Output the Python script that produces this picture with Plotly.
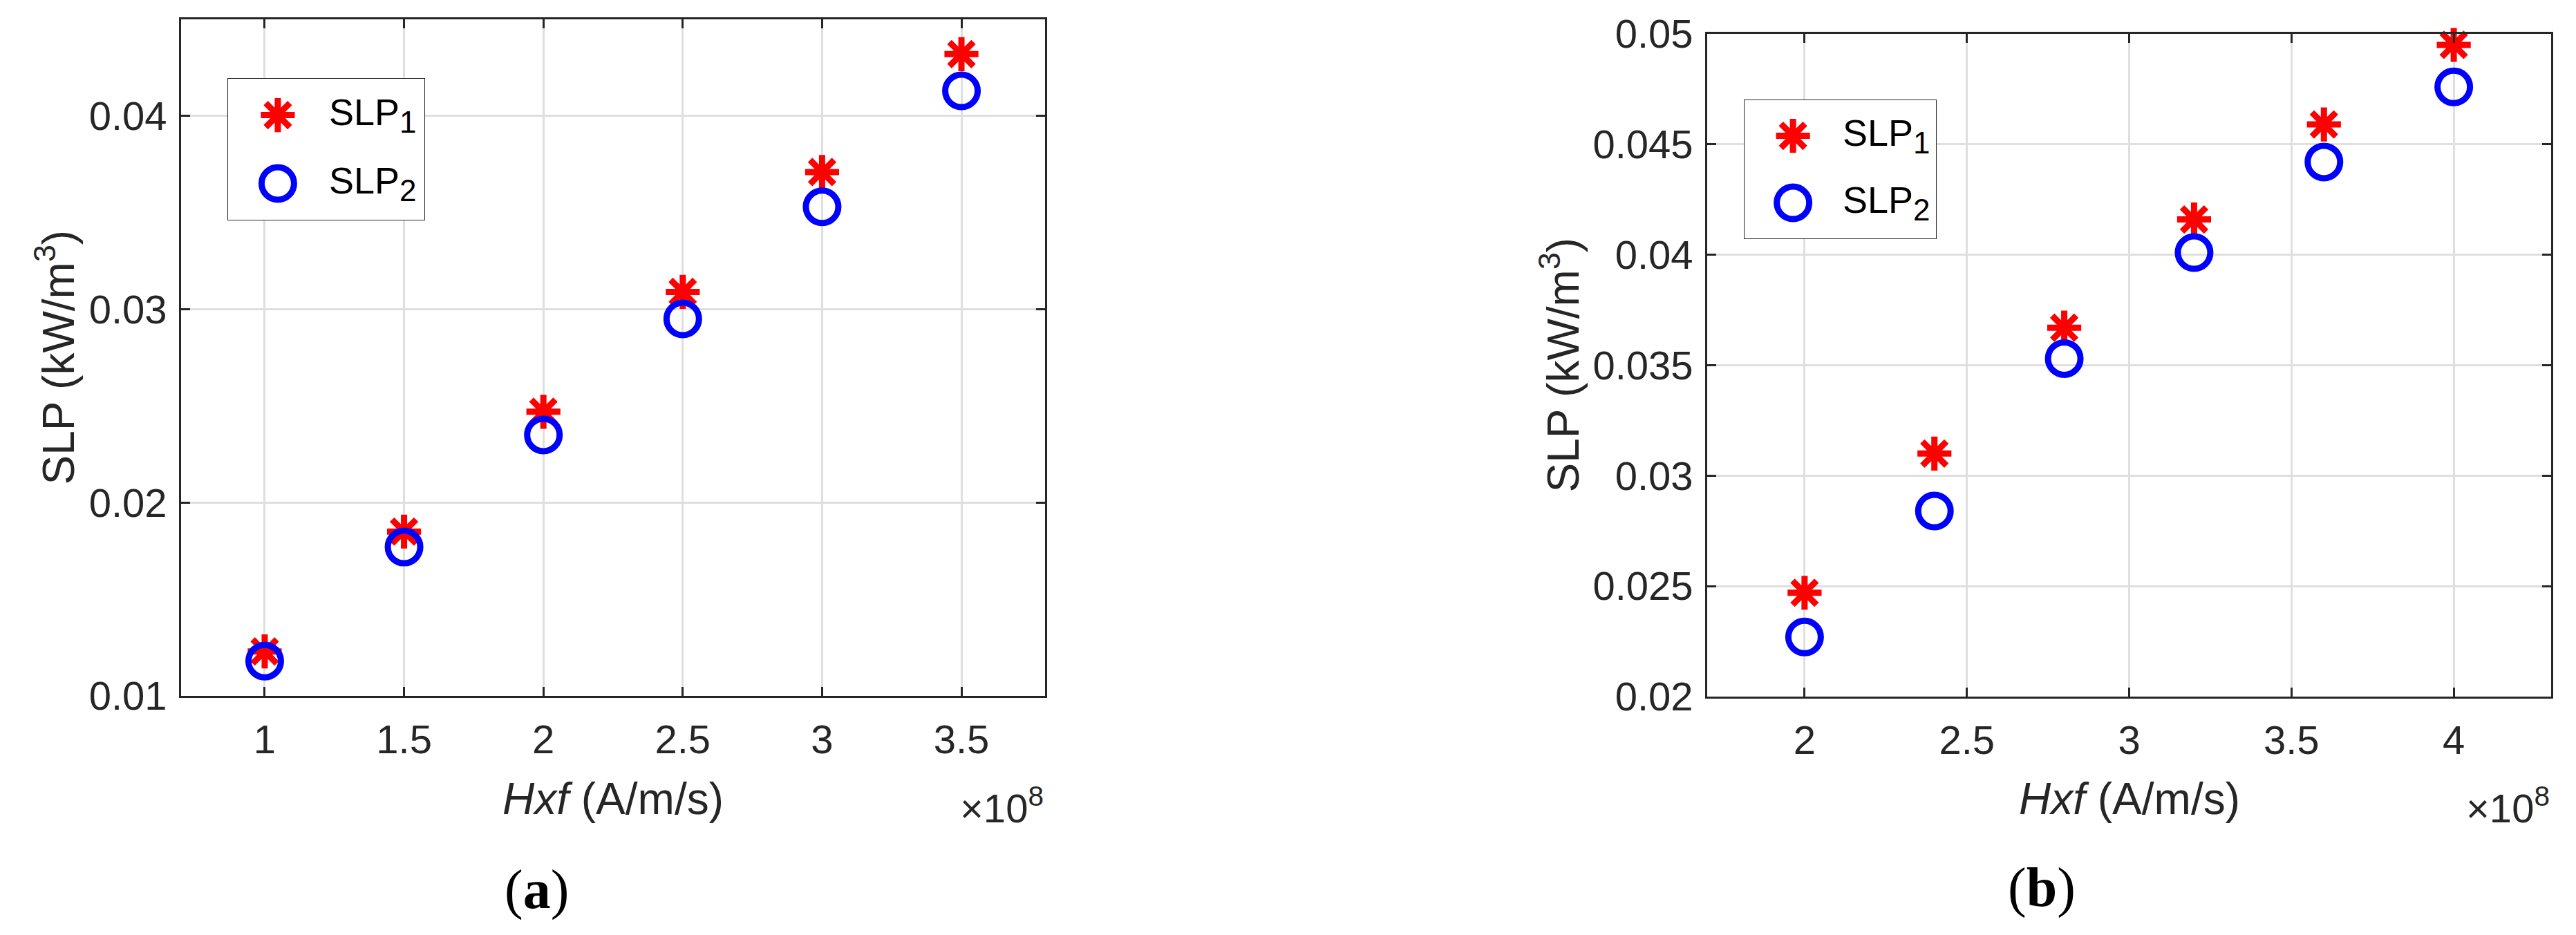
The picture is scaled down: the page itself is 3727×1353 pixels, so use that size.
import plotly.graph_objects as go

# ---------------- data (x values are in units of 1e8 A/m/s) ----------------
HXF_A = [1.0, 1.5, 2.0, 2.5, 3.0, 3.5]
SLP1_A = [0.0123, 0.0185, 0.0247, 0.0309, 0.0371, 0.0432]
SLP2_A = [0.0118, 0.0177, 0.0235, 0.0295, 0.0353, 0.0413]

HXF_B = [2.0, 2.4, 2.8, 3.2, 3.6, 4.0]
SLP1_B = [0.0247, 0.0310, 0.0367, 0.0416, 0.0459, 0.0495]
SLP2_B = [0.0227, 0.0284, 0.0353, 0.0401, 0.0442, 0.0476]

XTICKS_A = [1, 1.5, 2, 2.5, 3, 3.5]
XTICKTEXT_A = ["1", "1.5", "2", "2.5", "3", "3.5"]
YTICKS_A = [0.01, 0.02, 0.03, 0.04]
YTICKTEXT_A = ["0.01", "0.02", "0.03", "0.04"]

XTICKS_B = [2, 2.5, 3, 3.5, 4]
XTICKTEXT_B = ["2", "2.5", "3", "3.5", "4"]
YTICKS_B = [0.02, 0.025, 0.03, 0.035, 0.04, 0.045, 0.05]
YTICKTEXT_B = ["0.02", "0.025", "0.03", "0.035", "0.04", "0.045", "0.05"]

SERIES_BASE = ["SLP", "SLP"]
SERIES_SUB = ["1", "2"]
PANEL_LETTERS = ["a", "b"]
X_TITLE = "<i>Hxf</i> (A/m/s)"
Y_TITLE = "SLP (kW/m<sup>3</sup>)"
EXP_LABEL = "×10<sup>8</sup>"

# ---------------- styling ----------------
W, H = 3727, 1353
FONT = "Liberation Sans, Arial, Helvetica, sans-serif"
SERIF = "Liberation Serif, Times New Roman, serif"
AX_COLOR = "#262626"
GRID = "#DFDFDF"
RED = "#FF0000"
BLUE = "#0000FF"
TICK_SIZE = 58
LABEL_SIZE = 64
LEG_SIZE = 54

STAR = dict(symbol="asterisk-open", size=41, color=RED, line=dict(color=RED, width=9))
CIRC = dict(symbol="circle-open", size=47, color=BLUE, line=dict(color=BLUE, width=9))


def fx(px):
    return px / W


def fy(py):
    return 1 - py / H


axis_common = dict(
    showline=True, linecolor=AX_COLOR, linewidth=2.7, mirror="ticks",
    ticks="inside", ticklen=13, tickwidth=2.7, tickcolor=AX_COLOR,
    showgrid=True, gridcolor=GRID, gridwidth=2.5, zeroline=False,
    tickfont=dict(family=FONT, size=TICK_SIZE, color=AX_COLOR),
    tickmode="array", automargin=False, fixedrange=True,
)

fig = go.Figure()

# panel (a)
fig.add_trace(go.Scatter(x=HXF_A, y=SLP1_A, mode="markers", marker=STAR, name="SLP1",
                         xaxis="x", yaxis="y", showlegend=False, cliponaxis=False))
fig.add_trace(go.Scatter(x=HXF_A, y=SLP2_A, mode="markers", marker=CIRC, name="SLP2",
                         xaxis="x", yaxis="y", showlegend=False, cliponaxis=False))
# panel (b)
fig.add_trace(go.Scatter(x=HXF_B, y=SLP1_B, mode="markers", marker=STAR, name="SLP1",
                         xaxis="x2", yaxis="y2", showlegend=False, cliponaxis=False))
fig.add_trace(go.Scatter(x=HXF_B, y=SLP2_B, mode="markers", marker=CIRC, name="SLP2",
                         xaxis="x2", yaxis="y2", showlegend=False, cliponaxis=False))

# legend symbols (drawn on hidden legend axes)
for xa, ya in (("x3", "y3"), ("x4", "y4")):
    fig.add_trace(go.Scatter(x=[0.255], y=[0.74], mode="markers", marker=STAR,
                             xaxis=xa, yaxis=ya, showlegend=False, hoverinfo="skip", cliponaxis=False))
    fig.add_trace(go.Scatter(x=[0.255], y=[0.26], mode="markers", marker=CIRC,
                             xaxis=xa, yaxis=ya, showlegend=False, hoverinfo="skip", cliponaxis=False))

hidden = dict(visible=False, range=[0, 1], fixedrange=True, showgrid=False, zeroline=False)

fig.update_layout(
    width=W, height=H, autosize=False, template="none",
    paper_bgcolor="white", plot_bgcolor="white",
    margin=dict(l=0, r=0, t=0, b=0, pad=0),
    showlegend=False,
    xaxis=dict(axis_common, domain=[fx(262), fx(1512)], range=[0.7, 3.8], anchor="y",
               tickvals=XTICKS_A, ticktext=XTICKTEXT_A, ticklabelstandoff=11),
    yaxis=dict(axis_common, domain=[fy(1007), fy(28)], range=[0.01, 0.045], anchor="x",
               tickvals=YTICKS_A, ticktext=YTICKTEXT_A, ticklabelstandoff=6),
    xaxis2=dict(axis_common, domain=[fx(2470), fx(3691)], range=[1.7, 4.3], anchor="y2",
                tickvals=XTICKS_B, ticktext=XTICKTEXT_B, ticklabelstandoff=11),
    yaxis2=dict(axis_common, domain=[fy(1008), fy(49)], range=[0.02, 0.05], anchor="x2",
                tickvals=YTICKS_B, ticktext=YTICKTEXT_B, ticklabelstandoff=6),
    xaxis3=dict(hidden, domain=[fx(329), fx(615)], anchor="y3"),
    yaxis3=dict(hidden, domain=[fy(319), fy(113)], anchor="x3"),
    xaxis4=dict(hidden, domain=[fx(2523), fx(2802)], anchor="y4"),
    yaxis4=dict(hidden, domain=[fy(346), fy(144)], anchor="x4"),
)

# legend boxes (opaque, above the gridlines, beneath the legend symbols)
for xa, ya in (("x3", "y3"), ("x4", "y4")):
    fig.add_shape(type="rect", xref=xa, yref=ya, x0=0, x1=1, y0=0, y1=1,
                  line=dict(color=AX_COLOR, width=2), fillcolor="white", layer="between")

annotations = []
# legend texts
for xa, ya in (("x3", "y3"), ("x4", "y4")):
    for base, sub, yy in zip(SERIES_BASE, SERIES_SUB, (0.74, 0.26)):
        txt = f"{base}<sub><span style='font-size:44px'>{sub}</span></sub>"
        annotations.append(dict(xref=xa, yref=ya, x=0.507, y=yy, text=txt, showarrow=False,
                                xanchor="left", yanchor="middle",
                                font=dict(family=FONT, size=LEG_SIZE, color="black")))

# axis titles
for xc, yc in ((887, 1156), (3080.5, 1156)):
    annotations.append(dict(xref="paper", yref="paper", x=fx(xc), y=fy(yc), text=X_TITLE,
                            showarrow=False, xanchor="center", yanchor="middle",
                            font=dict(family=FONT, size=LABEL_SIZE, color=AX_COLOR)))
for xc, yc in ((80, 517.5), (2257, 528.5)):
    annotations.append(dict(xref="paper", yref="paper", x=fx(xc), y=fy(yc), text=Y_TITLE,
                            showarrow=False, xanchor="center", yanchor="middle", textangle=-90,
                            font=dict(family=FONT, size=LABEL_SIZE, color=AX_COLOR)))
# exponent labels
for xr in (1512, 3691):
    annotations.append(dict(xref="paper", yref="paper", x=fx(xr), y=fy(1165), text=EXP_LABEL,
                            showarrow=False, xanchor="right", yanchor="middle",
                            font=dict(family=FONT, size=TICK_SIZE, color=AX_COLOR)))
# panel labels
for letter, (xc, yc) in zip(PANEL_LETTERS, ((776, 1287), (2954, 1284))):
    annotations.append(dict(xref="paper", yref="paper", x=fx(xc), y=fy(yc), text=f"(<b>{letter}</b>)",
                            showarrow=False, xanchor="center", yanchor="middle",
                            font=dict(family=SERIF, size=80, color="black")))

fig.update_layout(annotations=annotations)

fig.write_html("out.html", config={"displayModeBar": False},
               post_script="document.body.style.margin='0';document.body.style.overflow='hidden';")
